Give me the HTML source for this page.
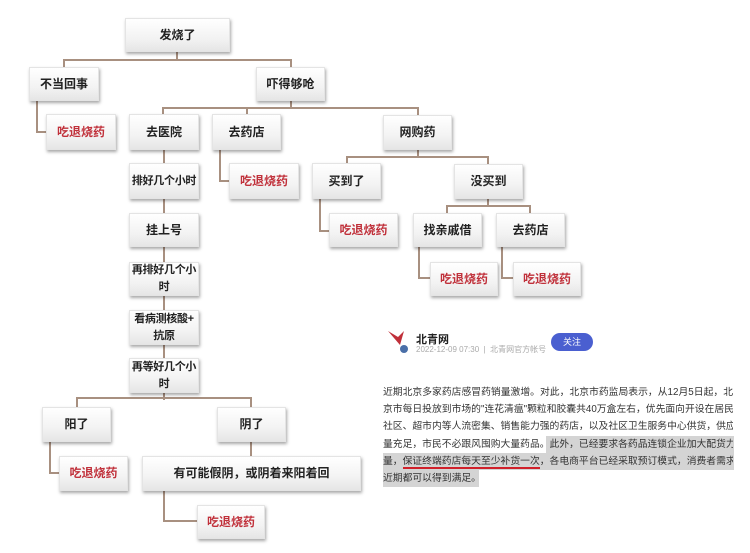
<!DOCTYPE html>
<html><head><meta charset="utf-8"><style>
body{margin:0;width:750px;height:553px;background:#fff;position:relative;overflow:hidden;font-family:"Liberation Sans","Noto Sans CJK SC",sans-serif;}
.b{position:absolute;box-sizing:border-box;background:linear-gradient(#ffffff,#f3f3f3 60%,#e6e6e6);box-shadow:1px 2px 3px rgba(0,0,0,.35);border:1px solid #e4e4e4;display:flex;align-items:center;justify-content:center;text-align:center;font-size:12px;font-weight:bold;color:#222;line-height:17px;white-space:nowrap}
.s{font-size:11px;letter-spacing:-0.3px}
.r{color:#c0303a}
.h{position:absolute;height:2px;background:#a89080}
.v{position:absolute;width:2px;background:#a89080}
.t{position:absolute;left:383px;width:350px;font-size:9.8px;color:#333;text-align:justify;text-align-last:justify;white-space:nowrap;line-height:17px;height:17px;overflow:hidden}
</style></head><body>
<!-- connectors -->
<div class="v" style="left:176px;top:52px;height:8px"></div>
<div class="h" style="left:64px;top:59px;width:228px"></div>
<div class="v" style="left:63px;top:59px;height:8px"></div>
<div class="v" style="left:290px;top:59px;height:8px"></div>
<div class="v" style="left:36px;top:101px;height:32px"></div>
<div class="h" style="left:36px;top:131px;width:10px"></div>
<div class="v" style="left:290px;top:101px;height:8px"></div>
<div class="h" style="left:163px;top:107px;width:256px"></div>
<div class="v" style="left:162px;top:107px;height:7px"></div>
<div class="v" style="left:246px;top:107px;height:7px"></div>
<div class="v" style="left:417px;top:107px;height:8px"></div>
<div class="v" style="left:219px;top:150px;height:32px"></div>
<div class="h" style="left:219px;top:180px;width:10px"></div>
<div class="v" style="left:163px;top:150px;height:250px"></div>
<div class="h" style="left:77px;top:397px;width:175px"></div>
<div class="v" style="left:76px;top:397px;height:10px"></div>
<div class="v" style="left:250px;top:397px;height:10px"></div>
<div class="v" style="left:49px;top:442px;height:32px"></div>
<div class="h" style="left:49px;top:472px;width:10px"></div>
<div class="v" style="left:250px;top:442px;height:14px"></div>
<div class="v" style="left:163px;top:491px;height:31px"></div>
<div class="h" style="left:163px;top:520px;width:34px"></div>
<div class="v" style="left:417px;top:150px;height:7px"></div>
<div class="h" style="left:347px;top:156px;width:142px"></div>
<div class="v" style="left:346px;top:156px;height:8px"></div>
<div class="v" style="left:487px;top:156px;height:8px"></div>
<div class="v" style="left:319px;top:199px;height:33px"></div>
<div class="h" style="left:319px;top:230px;width:10px"></div>
<div class="v" style="left:487px;top:199px;height:7px"></div>
<div class="h" style="left:447px;top:205px;width:84px"></div>
<div class="v" style="left:446px;top:205px;height:8px"></div>
<div class="v" style="left:529px;top:205px;height:8px"></div>
<div class="v" style="left:418px;top:247px;height:32px"></div>
<div class="h" style="left:418px;top:277px;width:12px"></div>
<div class="v" style="left:501px;top:247px;height:32px"></div>
<div class="h" style="left:501px;top:277px;width:12px"></div>
<!-- boxes -->
<div class="b" style="left:125px;top:18px;width:105px;height:34px">发烧了</div>
<div class="b" style="left:29px;top:67px;width:70px;height:34px">不当回事</div>
<div class="b" style="left:256px;top:67px;width:69px;height:34px">吓得够呛</div>
<div class="b r" style="left:46px;top:114px;width:70px;height:36px">吃退烧药</div>
<div class="b" style="left:129px;top:114px;width:70px;height:36px">去医院</div>
<div class="b" style="left:212px;top:114px;width:69px;height:36px">去药店</div>
<div class="b" style="left:383px;top:115px;width:69px;height:35px">网购药</div>
<div class="b s" style="left:129px;top:163px;width:70px;height:36px">排好几个小时</div>
<div class="b r" style="left:229px;top:163px;width:70px;height:36px">吃退烧药</div>
<div class="b" style="left:312px;top:163px;width:69px;height:36px">买到了</div>
<div class="b" style="left:454px;top:164px;width:69px;height:35px">没买到</div>
<div class="b" style="left:129px;top:213px;width:70px;height:34px">挂上号</div>
<div class="b r" style="left:329px;top:213px;width:69px;height:34px">吃退烧药</div>
<div class="b" style="left:413px;top:213px;width:69px;height:34px">找亲戚借</div>
<div class="b" style="left:496px;top:213px;width:69px;height:34px">去药店</div>
<div class="b r" style="left:430px;top:262px;width:68px;height:34px">吃退烧药</div>
<div class="b r" style="left:513px;top:262px;width:68px;height:34px">吃退烧药</div>
<div class="b s" style="left:129px;top:262px;width:70px;height:34px">再排好几个小<br>时</div>
<div class="b s" style="left:129px;top:310px;width:70px;height:35px">看病测核酸+<br>抗原</div>
<div class="b s" style="left:129px;top:358px;width:70px;height:35px">再等好几个小<br>时</div>
<div class="b" style="left:42px;top:407px;width:69px;height:35px">阳了</div>
<div class="b" style="left:217px;top:407px;width:69px;height:35px">阴了</div>
<div class="b r" style="left:59px;top:456px;width:69px;height:35px">吃退烧药</div>
<div class="b" style="left:142px;top:456px;width:219px;height:35px">有可能假阴，或阴着来阳着回</div>
<div class="b r" style="left:197px;top:505px;width:68px;height:34px">吃退烧药</div>
<!-- card -->
<svg style="position:absolute;left:386px;top:329px" width="24" height="24"><path d="M2 2 L12 8 L18 2 L14 16 Z" fill="#c0303a"/><circle cx="18" cy="20" r="4" fill="#4a6fa8"/></svg>
<div style="position:absolute;left:416px;top:331px;font-size:11px;font-weight:bold;color:#222">北青网</div>
<div style="position:absolute;left:416px;top:344px;font-size:8px;color:#aaa">2022-12-09 07:30 &nbsp;|&nbsp; 北青网官方帐号</div>
<div style="position:absolute;left:551px;top:333px;width:42px;height:18px;border-radius:9px;background:#4a5fd0;color:#fff;font-size:9px;text-align:center;line-height:18px">关注</div>
<div style="position:absolute;left:546px;top:436px;width:188px;height:17px;background:#d4d4d4"></div>
<div style="position:absolute;left:383px;top:453px;width:351px;height:17px;background:#d4d4d4"></div>
<div style="position:absolute;left:383px;top:470px;width:96px;height:17px;background:#d4d4d4"></div>
<div style="position:absolute;left:403px;top:467px;width:137px;height:2px;background:#d0202a"></div>
<div class="t" style="top:384px">近期北京多家药店感冒药销量激增。对此，北京市药监局表示，从12月5日起，北</div>
<div class="t" style="top:401px">京市每日投放到市场的"连花清瘟"颗粒和胶囊共40万盒左右，优先面向开设在居民</div>
<div class="t" style="top:418px">社区、超市内等人流密集、销售能力强的药店，以及社区卫生服务中心供货，供应</div>
<div class="t" style="top:436px">量充足，市民不必跟风囤购大量药品。此外，已经要求各药品连锁企业加大配货力</div>
<div class="t" style="top:453px">量，保证终端药店每天至少补货一次，各电商平台已经采取预订模式，消费者需求</div>
<div class="t" style="top:470px;text-align-last:left">近期都可以得到满足。</div>
</body></html>
